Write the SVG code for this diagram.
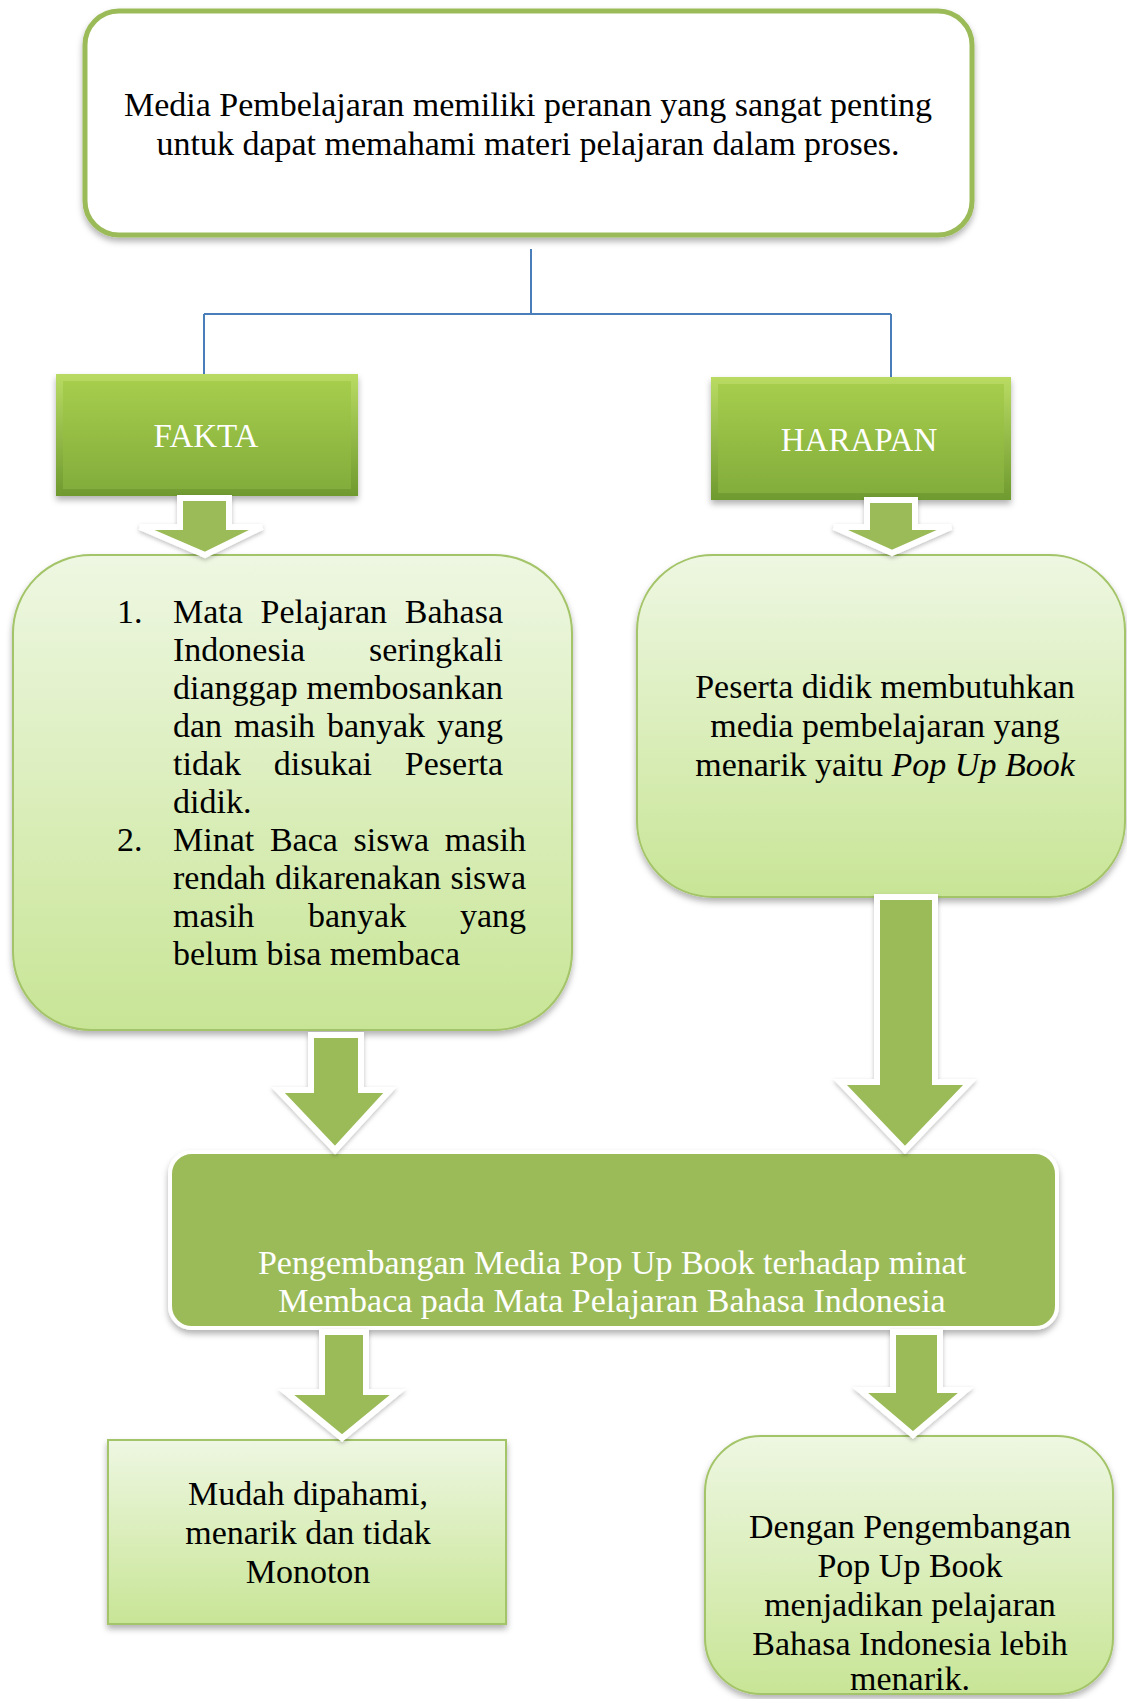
<svg xmlns="http://www.w3.org/2000/svg" width="1127" height="1699" viewBox="0 0 1127 1699">
<style>
.t{font-family:"Liberation Serif","Times New Roman",serif;font-size:34px;fill:#000}
.w{font-family:"Liberation Serif","Times New Roman",serif;font-size:34px;fill:#fff}
.c{text-anchor:middle}
.e{text-anchor:end}
.hdr{font-family:"Liberation Serif","Times New Roman",serif;font-size:33px;fill:#fff;text-anchor:middle}
.pale{fill:url(#pale);stroke:#a3c467;stroke-width:2;filter:url(#sh)}
.arrow{fill:#9bbb59;stroke:#fff;stroke-width:6;stroke-linejoin:miter;filter:url(#sh2)}
.conn{fill:none;stroke:#4a7ebb;stroke-width:2}
</style>
<defs>
<linearGradient id="pale" x1="0" y1="0" x2="0" y2="1">
<stop offset="0" stop-color="#eef7e2"/>
<stop offset="1" stop-color="#c8e596"/>
</linearGradient>
<linearGradient id="bev" x1="0" y1="0" x2="0" y2="1">
<stop offset="0" stop-color="#b9db63"/>
<stop offset="1" stop-color="#6f9a2f"/>
</linearGradient>
<linearGradient id="bevIn" x1="0" y1="0" x2="0" y2="1">
<stop offset="0" stop-color="#a6cd4c"/>
<stop offset="1" stop-color="#83ad3c"/>
</linearGradient>
<filter id="sh" x="-10%" y="-10%" width="120%" height="125%">
<feDropShadow dx="0" dy="4" stdDeviation="3" flood-color="#000" flood-opacity="0.3"/>
</filter>
<filter id="sh2" x="-20%" y="-20%" width="140%" height="140%">
<feDropShadow dx="0" dy="2" stdDeviation="2" flood-color="#000" flood-opacity="0.25"/>
</filter>
</defs>

<g id="top">
<rect x="85" y="11" width="887" height="224" rx="34" fill="#fff" stroke="#9bbb59" stroke-width="5" filter="url(#sh)"/>
<text class="t c" x="528" y="116">Media Pembelajaran memiliki peranan yang sangat penting</text>
<text class="t c" x="528" y="155">untuk dapat memahami materi pelajaran dalam proses.</text>
</g>

<g id="connectors">
<path class="conn" d="M531 249 V314 M204 314 H891 M204 314 V374 M891 314 V377"/>
</g>

<g id="fakta">
<rect x="56" y="374" width="302" height="122" fill="url(#bev)" filter="url(#sh)"/>
<rect x="63" y="381" width="288" height="108" fill="url(#bevIn)"/>
<text class="hdr" x="206" y="447">FAKTA</text>
</g>

<g id="harapan">
<rect x="711" y="377" width="300" height="123" fill="url(#bev)" filter="url(#sh)"/>
<rect x="718" y="384" width="286" height="109" fill="url(#bevIn)"/>
<text class="hdr" x="859" y="451">HARAPAN</text>
</g>

<g id="fakta-content">
<rect class="pale" x="13" y="555" width="559" height="475" rx="78"/>
<text class="t" x="117" y="623">1.</text>
<text class="t" y="623"><tspan x="173">Mata</tspan><tspan x="260.6">Pelajaran</tspan></text>
<text class="t e" x="503" y="623">Bahasa</text>
<text class="t" x="173" y="661">Indonesia</text>
<text class="t e" x="503" y="661">seringkali</text>
<text class="t" x="173" y="699">dianggap</text>
<text class="t e" x="503" y="699">membosankan</text>
<text class="t" y="737"><tspan x="173">dan</tspan><tspan x="233.9">masih</tspan><tspan x="326.9">banyak</tspan></text>
<text class="t e" x="503" y="737">yang</text>
<text class="t" y="775"><tspan x="173">tidak</tspan><tspan x="273.8">disukai</tspan></text>
<text class="t e" x="503" y="775">Peserta</text>
<text class="t" x="173" y="813">didik.</text>
<text class="t" x="117" y="851">2.</text>
<text class="t" y="851"><tspan x="173">Minat</tspan><tspan x="269.9">Baca</tspan><tspan x="353.6">siswa</tspan></text>
<text class="t e" x="526" y="851">masih</text>
<text class="t" y="889"><tspan x="173">rendah</tspan><tspan x="274.9">dikarenakan</tspan></text>
<text class="t e" x="526" y="889">siswa</text>
<text class="t" y="927"><tspan x="173">masih</tspan><tspan x="308">banyak</tspan></text>
<text class="t e" x="526" y="927">yang</text>
<text class="t" x="173" y="965">belum bisa membaca</text>
</g>

<g id="harapan-content">
<rect class="pale" x="637" y="555" width="488" height="342" rx="76"/>
<text class="t c" x="885" y="698">Peserta didik membutuhkan</text>
<text class="t c" x="885" y="737">media pembelajaran yang</text>
<text class="t c" x="885" y="776">menarik yaitu <tspan font-style="italic">Pop Up Book</tspan></text>
</g>

<g id="central">
<rect x="170" y="1152" width="887" height="176" rx="22" fill="#9bbb59" stroke="#fff" stroke-width="4" filter="url(#sh)"/>
<text class="w c" x="612" y="1274">Pengembangan Media Pop Up Book terhadap minat</text>
<text class="w c" x="612" y="1312">Membaca pada Mata Pelajaran Bahasa Indonesia</text>
</g>

<g id="result-left">
<rect class="pale" x="108" y="1440" width="398" height="184"/>
<text class="t c" x="308" y="1505">Mudah dipahami,</text>
<text class="t c" x="308" y="1544">menarik dan tidak</text>
<text class="t c" x="308" y="1583">Monoton</text>
</g>

<g id="result-right">
<rect class="pale" x="705" y="1436" width="408" height="258" rx="56"/>
<text class="t c" x="910" y="1538">Dengan Pengembangan</text>
<text class="t c" x="910" y="1577">Pop Up Book</text>
<text class="t c" x="910" y="1616">menjadikan pelajaran</text>
<text class="t c" x="910" y="1655">Bahasa Indonesia lebih</text>
<text class="t c" x="910" y="1690">menarik.</text>
</g>

<g id="arrows">
<polygon class="arrow" points="180,498 229,498 229,527 262,527 205,555 140,527 180,527"/>
<polygon class="arrow" points="867,500 915,500 915,527 951,527 892,553 834,527 867,527"/>
<polygon class="arrow" points="311,1035 361,1035 361,1090 390,1090 335,1150 278,1090 311,1090"/>
<polygon class="arrow" points="877,897 935,897 935,1082 970,1082 905,1150 840,1082 877,1082"/>
<polygon class="arrow" points="322,1332 366,1332 366,1392 398,1392 342,1438 286,1392 322,1392"/>
<polygon class="arrow" points="893,1332 940,1332 940,1390 966,1390 913,1435 860,1390 893,1390"/>
</g>
</svg>
